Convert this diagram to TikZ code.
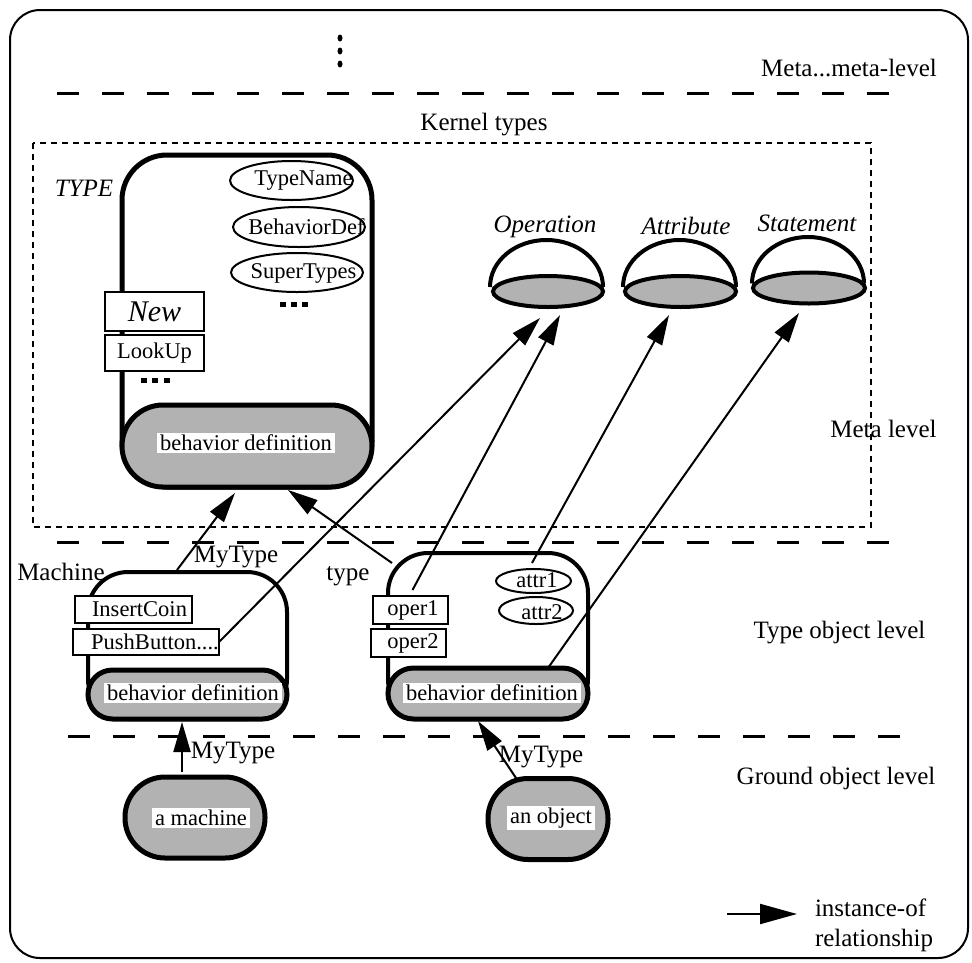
\documentclass[tikz,border=0pt]{standalone}
\usepackage{fontspec}
\setmainfont{Liberation Serif}
\usetikzlibrary{arrows.meta,shapes.geometric,calc}

\begin{document}
\begin{tikzpicture}[x=1pt,y=-1pt,
  every node/.style={outer sep=0pt},
  lbl/.style={font=\fontsize{25}{28}\selectfont, inner sep=0pt},
  itlbl/.style={font=\fontsize{25}{28}\selectfont\itshape, inner sep=0pt},
  txt/.style={font=\fontsize{22.5}{26}\selectfont, inner sep=0pt},
  wtext/.style={font=\fontsize{22.5}{26}\selectfont, fill=white, inner xsep=3pt, inner ysep=2pt},
  typebox/.style={draw, line width=5pt, rounded corners=45pt},
  objbox/.style={draw, line width=4pt, rounded corners=40pt},
  bdef/.style={draw, line width=5pt, fill=gray!60},
  opbox/.style={draw, fill=white, line width=2pt, inner sep=0pt, font=\fontsize{22.5}{26}\selectfont},
  slot/.style={ellipse, draw, line width=2pt, inner sep=0pt},
  kindtop/.style={ellipse, draw, line width=4pt, fill=gray!60, inner sep=0pt},
  dome/.style={line width=4pt},
  inst/.style={line width=2pt, -{Triangle[length=30pt,width=17pt]}},
  levelline/.style={line width=3pt, dash pattern=on 22pt off 23pt},
  kernelline/.style={line width=2pt, dash pattern=on 6pt off 5pt}
]
\useasboundingbox (0,0) rectangle (972,962);

% outer frame
\draw[line width=2pt, rounded corners=30pt] (10,10) rectangle (968,958);

% vertical ellipsis above the top level
\foreach \yy in {38,51,64} \fill (340,\yy) ellipse[x radius=2.5pt, y radius=3.5pt];

% level separators
\draw[levelline] (57,93) -- (895,93);
\draw[levelline] (57,542) -- (895,542);
\draw[levelline] (68,736) -- (900,736);

% level names
\node[lbl] (lvmm) at (849,68) {Meta...meta-level};
\node[lbl] (lvm) at (883.5,429) {Meta level};
\node[lbl] (lvt) at (839.5,633) {Type object level};
\node[lbl] (lvg) at (836,778) {Ground object level};

% kernel types frame
\draw[kernelline] (33,143) rectangle (871,527);
\node[lbl] (kern) at (484,125) {Kernel types};

% ---- TYPE ----
\node[typebox, minimum width=250pt, minimum height=332pt] (TYPE) at (247,321) {};
\node[bdef, rounded corners=41pt, minimum width=250pt, minimum height=82pt] (tbd) at (247,446) {};
\node[wtext] (tbdT) at (246,443) {behavior definition};
\node[itlbl] (typelbl) at (84,188) {TYPE};

\node[slot, minimum width=123pt, minimum height=39pt] (tn) at (291.5,180.5) {};
\node[txt] (tnT) at (303.5,181) {TypeName};
\node[slot, minimum width=132pt, minimum height=40pt] (bdf) at (299,227) {};
\node[txt] (bdfT) at (306.5,227) {BehaviorDef};
\node[slot, minimum width=132pt, minimum height=39pt] (sup) at (297,272.5) {};
\node[txt] (supT) at (303.5,273) {SuperTypes};
\foreach \xx in {280,291,302} \fill (\xx,302) rectangle +(6,5);

\node[opbox, minimum width=99pt, minimum height=39pt, font=\fontsize{30}{32}\selectfont\itshape] (new) at (154.5,311.5) {New};
\node[opbox, minimum width=99pt, minimum height=36pt] (lookup) at (154.5,353) {LookUp};
\foreach \xx in {141,152,164} \fill (\xx,378) rectangle +(6,5);

% ---- kernel kinds ----
\draw[dome] (490,287) arc[start angle=180, end angle=0, x radius=56.5pt, y radius=47pt];
\node[kindtop, minimum width=110pt, minimum height=31pt] (opE) at (548,291.5) {};
\node[itlbl] (opL) at (545,227) {Operation};

\draw[dome] (623,287) arc[start angle=180, end angle=0, x radius=56.5pt, y radius=47pt];
\node[kindtop, minimum width=111pt, minimum height=31pt] (atE) at (680.5,291.5) {};
\node[itlbl] (atL) at (686,226) {Attribute};

\draw[dome] (752,283.5) arc[start angle=180, end angle=0, x radius=56pt, y radius=46.5pt];
\node[kindtop, minimum width=112pt, minimum height=31pt] (stE) at (809,288) {};
\node[itlbl] (stL) at (807,223) {Statement};

% ---- Machine ----
\node[objbox, minimum width=199pt, minimum height=147pt] (mach) at (187.5,645.5) {};
\node[bdef, rounded corners=24.5pt, minimum width=199pt, minimum height=49pt] (mbd) at (187.5,694.5) {};
\node[wtext] (mbdT) at (193,693) {behavior definition};
\node[lbl] (machL) at (61,572) {Machine};
\node[opbox, minimum width=117pt, minimum height=27pt] (ins) at (133.5,609.5) {\hspace{12pt}InsertCoin};
\node[opbox, minimum width=146pt, minimum height=26pt] (push) at (146,642) {\hspace{18pt}PushButton....};

% ---- type ----
\node[objbox, minimum width=200pt, minimum height=166pt] (tbox) at (488,636) {};
\node[bdef, rounded corners=25.5pt, minimum width=200pt, minimum height=51pt] (tbd2) at (488,693.5) {};
\node[wtext] (tbd2T) at (492,693) {behavior definition};
\node[lbl] (typeL) at (348,576) {type};
\node[opbox, minimum width=75pt, minimum height=28pt] (oper1) at (410.5,610) {\hspace{5pt}oper1};
\node[opbox, minimum width=75pt, minimum height=28pt] (oper2) at (408.5,643) {\hspace{9pt}oper2};
\node[slot, minimum width=75pt, minimum height=24pt] (attr1) at (533.5,581) {};
\node[txt] (attr1T) at (537,580) {attr1};
\node[slot, minimum width=74pt, minimum height=27pt] (attr2) at (536,610.5) {};
\node[txt] (attr2T) at (542,612) {attr2};

% ---- ground objects ----
\node[bdef, rounded corners=40pt, minimum width=140pt, minimum height=81pt] (amach) at (195,817.5) {};
\node[wtext] (amachT) at (201,818) {a machine};
\node[bdef, rounded corners=40pt, minimum width=120pt, minimum height=81pt] (anobj) at (548,819) {};
\node[wtext] (anobjT) at (551,818) {an object};

% ---- instance-of relationships ----
\draw[inst] ($(mach.north)+(-10.5,-2)$) -- ($(TYPE.south)+(-12,6)$);
\draw[inst] ($(tbox.north west)+(4,10)$) -- ($(TYPE.south)+(41,3)$);
\draw[inst] (push.east) -- ($(opE.south)+(-8,11)$);
\draw[inst] ($(oper1.north)+(2,-6)$) -- ($(opE.south)+(12,8)$);
\draw[inst] ($(attr1.north)+(-1.5,-6)$) -- ($(atE.south)+(-11.5,8)$);
\draw[inst] ($(tbd2.north)+(60,0)$) -- ($(stE.south)+(-10,9.5)$);
\draw[inst] ($(amach.north)+(-13,-5)$) -- ($(mbd.south)+(-5.5,3)$);
\draw[inst] ($(anobj.north)+(-31,1)$) -- ($(tbd2.south)+(-10,2)$);

\node[lbl] (mt1) at (236,557) {MyType};
\node[lbl] (mt2) at (233,753) {MyType};
\node[lbl] (mt3) at (541,757) {MyType};

% ---- legend ----
\coordinate (lgA) at (727,914);
\coordinate (lgB) at (797,914);
\draw[line width=2pt, -{Triangle[length=37pt,width=20pt]}] (lgA) -- (lgB);
\node[font=\fontsize{25}{30}\selectfont, inner sep=0pt, align=left, anchor=west] (lgT) at (815,925) {instance-of\\relationship};

\end{tikzpicture}
\end{document}
